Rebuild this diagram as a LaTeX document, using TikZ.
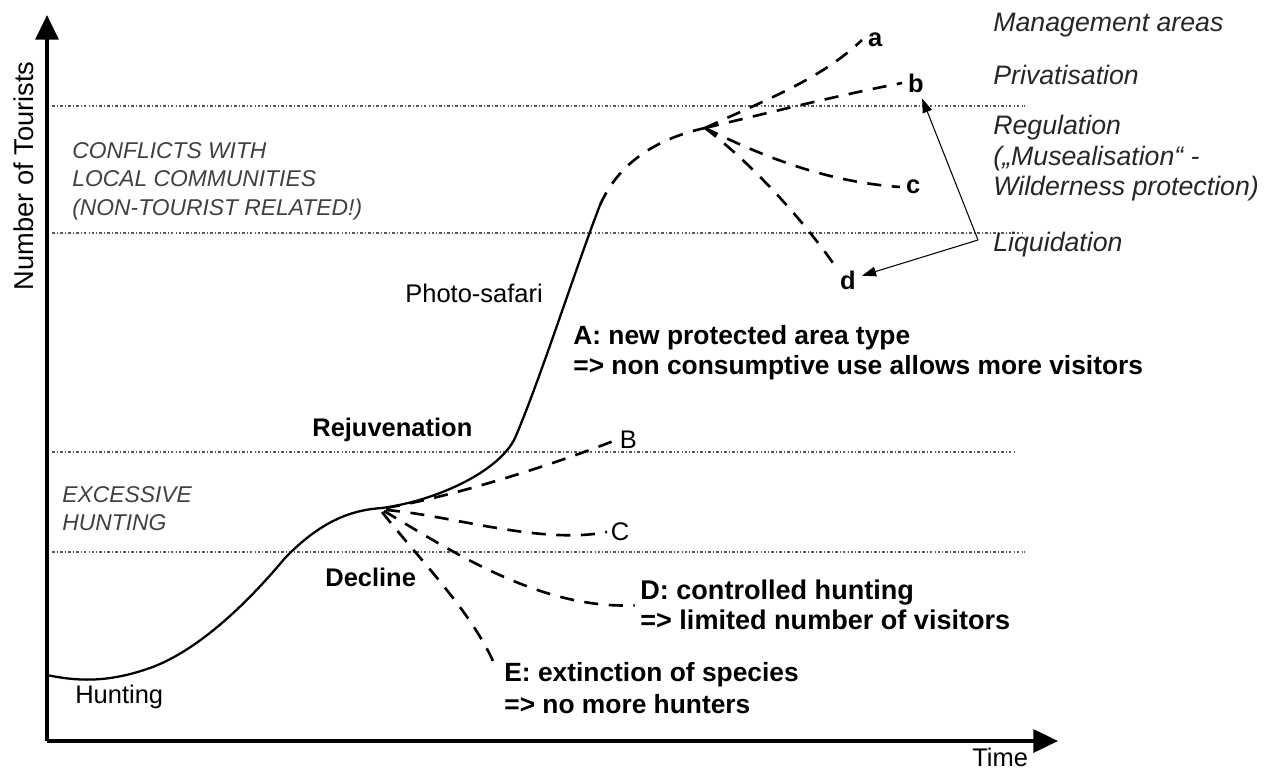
\documentclass[tikz,border=0pt]{standalone}
\usepackage{fontspec}
\setmainfont{Liberation Sans}
\usetikzlibrary{arrows.meta}

\newcommand{\lbl}{\fontsize{14.5}{17}\selectfont}
\newcommand{\lblbig}{\fontsize{15}{17}\selectfont}
\newcommand{\zone}{\fontsize{13}{16.2}\selectfont\itshape}

\begin{document}
\begin{tikzpicture}[x=0.02cm,y=-0.02cm,
    every node/.style={font=\lbl},
    axis/.style={line width=2pt,-{Triangle[length=14pt,width=13pt]}},
    curve/.style={line width=1.3pt},
    branch/.style={line width=1.5pt,dash pattern=on 8pt off 6pt},
    level/.style={line width=0.75pt,black!65,dash pattern=on 1.6pt off 1.2pt on 0.5pt off 1.2pt},
    pointer/.style={line width=0.6pt,-{Triangle[length=8pt,width=5.5pt]}},
    zonetext/.style={font=\zone,black!75,align=left,inner sep=0pt},
    stage/.style={font=\fontsize{15.2}{17.3}\selectfont\itshape,black!85,anchor=west,inner sep=0pt},
    remark/.style={font=\lblbig\bfseries,align=left,inner sep=0pt}]
  \useasboundingbox (0,0) rectangle (1273,771);

  % axes
  \coordinate (origin) at (47,741);
  \draw[axis] (origin) -- (47,15);
  \draw[axis] (origin) -- (1058,741);
  \node[rotate=90,font=\fontsize{15.5}{18}\selectfont] (ylab) at (24,176) {Number of Tourists};
  \node[anchor=west,inner sep=0pt] (xlab) at (972,757) {Time};

  % levels
  \foreach \y/\e in {106/1025,233/1022,452/1015,552/1025}
    \draw[level] (52,\y) -- (\e,\y);

  \node[zonetext,anchor=north west] (conflicts) at (72,142)
    {CONFLICTS WITH\\LOCAL COMMUNITIES\\(NON-TOURIST RELATED!)};
  \node[zonetext,anchor=north west] (excess) at (62,486) {EXCESSIVE\\HUNTING};

  % main development curve
  \coordinate (lowfork) at (382,508);
  \coordinate (upfork) at (705,128);
  \draw[curve] (47,675) .. controls (80,682) and (110,682) .. (150,668)
     .. controls (200,650) and (250,600) .. (285,558)
     .. controls (320,522) and (350,510) .. (lowfork)
     .. controls (440,500) and (500,470) .. (515,438)
     .. controls (540,380) and (575,270) .. (600,205) coordinate (safari);
  \draw[branch] (safari) .. controls (620,160) and (660,138) .. (upfork);

  \node[anchor=west,inner sep=0pt] (hunting) at (75,697) {Hunting};
  \node[anchor=west,inner sep=0pt,font=\lbl\bfseries] (decline) at (325,577) {Decline};
  \node[anchor=west,inner sep=0pt,font=\lbl\bfseries] (rejuv) at (312,430) {Rejuvenation};
  \node[anchor=west,inner sep=0pt] (photo) at (405,293) {Photo-safari};
  \node[remark,anchor=west] (atext) at (573,353)
    {A: new protected area type\\=> non consumptive use allows more visitors};

  % lower branches
  \node[anchor=west,inner sep=2pt] (B) at (616,440) {B};
  \node[anchor=west,inner sep=2pt] (C) at (607,532) {C};
  \node[remark,anchor=north west,font=\fontsize{15.4}{17}\selectfont\bfseries] (dtext) at (640,580)
    {D: controlled hunting\\=> limited number of visitors};
  \node[remark,anchor=north west,font=\fontsize{15}{18.5}\selectfont\bfseries] (etext) at (504,662)
    {E: extinction of species\\=> no more hunters};
  \draw[branch] (lowfork) ++(4,0) .. controls (460,495) and (560,462) .. (B.west);
  \draw[branch] (lowfork) ++(4,2) .. controls (450,515) and (540,545) .. (C.west);
  \draw[branch] (lowfork) ++(2,3) .. controls (450,550) and (540,610) .. ([xshift=-3pt]dtext.west);
  \draw[branch] (lowfork) ++(0,4) .. controls (420,560) and (470,610) .. ([xshift=-6pt]etext.north west);

  % upper branches
  \node[anchor=west,font=\lbl\bfseries] (a) at (862,40) {a};
  \node[anchor=west,font=\lbl\bfseries] (b) at (902,83) {b};
  \node[anchor=west,font=\lbl\bfseries] (c) at (900,187) {c};
  \node[anchor=west,font=\lbl\bfseries] (d) at (834,280) {d};
  \draw[branch] (upfork) .. controls (765,100) and (820,80) .. (a.west);
  \draw[branch] (upfork) .. controls (780,110) and (840,95) .. (b.west);
  \draw[branch] (upfork) .. controls (770,160) and (830,182) .. (c.west);
  \draw[branch] (upfork) .. controls (760,170) and (810,230) .. (d.north west);

  \coordinate (bend) at (978,240);
  \draw[pointer] (bend) -- (b);
  \draw[pointer] (bend) -- (d);

  % outcomes
  \node[stage] (manage) at (993,25) {Management areas};
  \node[stage] (priv) at (993,75) {Privatisation};
  \node[stage,align=left,anchor=north west] (regul) at (993,115)
    {Regulation\\(„Musealisation“ -\\Wilderness protection)};
  \node[stage] (liquid) at (993,245) {Liquidation};
\end{tikzpicture}
\end{document}
